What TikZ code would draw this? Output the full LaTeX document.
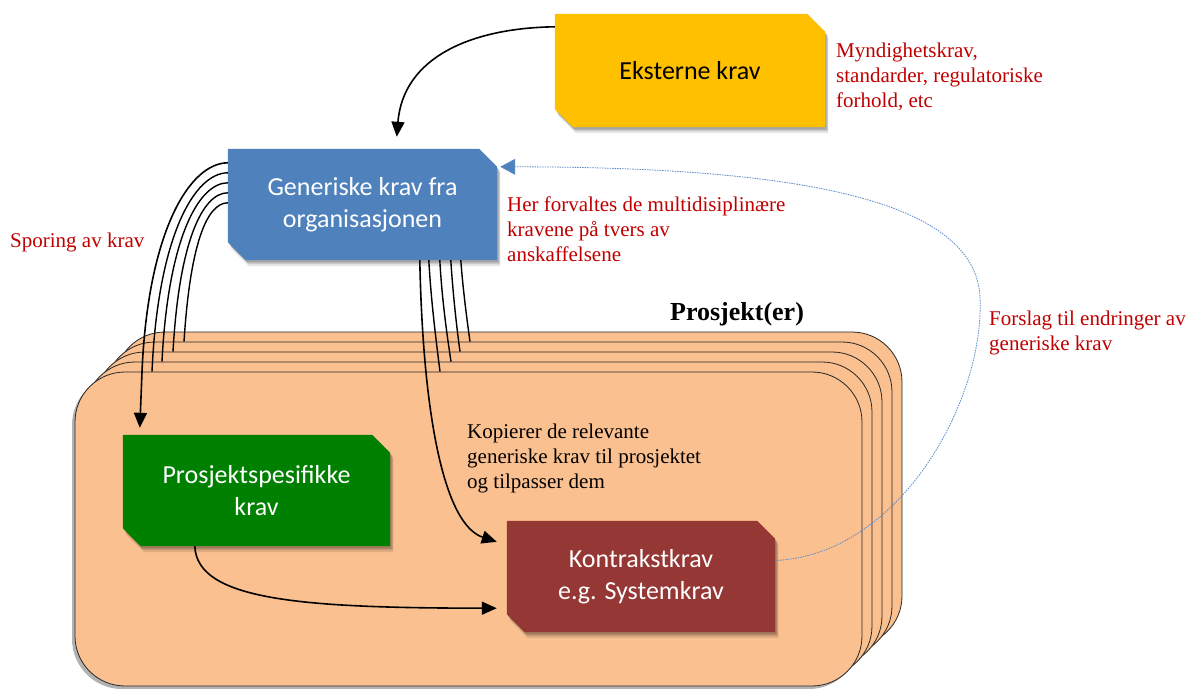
\documentclass[tikz,border=0pt]{standalone}
\usepackage{fontspec}
\setmainfont{Liberation Serif}
\newfontfamily\calib{Carlito}
\usetikzlibrary{calc,shadows,arrows.meta}
\pgfdeclarelayer{back}
\pgfdeclarelayer{mid}
\pgfsetlayers{back,mid,main}
\definecolor{extc}{HTML}{FFC000}
\definecolor{genc}{HTML}{4F81BD}
\definecolor{projc}{HTML}{008000}
\definecolor{kontrc}{HTML}{953735}
\definecolor{peach}{HTML}{FAC090}
\definecolor{redc}{HTML}{C00000}
\definecolor{dotc}{HTML}{5B8BC9}
\newcommand\chamfpath[1]{(#1.north west) -- ($(#1.north east)+(-18,0)$) -- ($(#1.north east)+(0,18)$) -- (#1.south east) -- ($(#1.south west)+(18,0)$) -- ($(#1.south west)+(0,-18)$) -- cycle}
\newcommand\chamfbox[2]{%
\begin{pgfonlayer}{mid}
\foreach \dx/\dy in {1/-2,2/-3,3/-4,3/-6}{
 \begin{scope}[transform canvas={shift={(\dx pt,\dy pt)}}]
 \fill[black,opacity=0.1] \chamfpath{#1};
 \end{scope}}
\fill[#2] \chamfpath{#1};
\end{pgfonlayer}}
\tikzset{
 boxtext/.style={font=\calib\fontsize{26}{32}\selectfont, align=center, text=white, inner sep=0pt, minimum height=111pt},
 redtxt/.style={font=\fontsize{21}{25}\selectfont, text=redc, align=left, anchor=north west, inner sep=0pt},
 blktxt/.style={font=\fontsize{21}{25}\selectfont, text=black, align=left, anchor=north west, inner sep=0pt},
 stackrect/.style={draw=black!85, line width=0.8pt, fill=peach, rounded corners=50pt, minimum width=787pt, minimum height=314pt, inner sep=0pt,
   drop shadow={shadow xshift=-3pt, shadow yshift=-3pt, opacity=0.3, fill=black}},
 bundle/.style={line width=1.4pt, black},
 arr/.style={line width=1.6pt, black, -{Triangle[length=15pt,width=13pt]}},
 fb/.style={line width=0.8pt, dotc, dash pattern=on 1.5pt off 1pt, -{Triangle[length=15pt,width=16pt,fill=genc]}}
}
\begin{document}
\begin{tikzpicture}[x=1pt,y=-1pt]
\begin{pgfonlayer}{back}
\fill[white] (0,0) rectangle (1191,688);
\useasboundingbox (0,0) rectangle (1191,688);
\foreach \k in {4,3,2,1,0}{
 \node[stackrect] (p\k) at ({468.5+10*\k},{529-10*\k}) {};
}
\end{pgfonlayer}

% boxes
\node[boxtext, text=black, minimum width=270pt, minimum height=113pt] (ext) at (690,70.5) {Eksterne krav};
\node[boxtext, minimum width=269pt] (gen) at (362.5,204.5) {Generiske krav fra\\organisasjonen};
\node[boxtext, minimum width=267pt] (proj) at (256.5,490.5) {Prosjektspesifikke\\krav};
\node[boxtext, minimum width=268pt] (kontr) at (641,576.5) {Kontrakstkrav\\e.g. Systemkrav};
\chamfbox{ext}{extc}
\chamfbox{gen}{genc}
\chamfbox{proj}{projc}
\chamfbox{kontr}{kontrc}

% labels
\node[redtxt] (t1) at (836,43) {Myndighetskrav,\\standarder, regulatoriske\\forhold, etc};
\node[redtxt] (t2) at (507,197) {Her forvaltes de multidisiplinære\\kravene på tvers av\\anskaffelsene};
\node[redtxt] (t3) at (10,233) {Sporing av krav};
\node[redtxt] (t4) at (989,311) {Forslag til endringer av\\generiske krav};
\node[blktxt] (t5) at (467,424) {Kopierer de relevante\\generiske krav til prosjektet\\og tilpasser dem};
\node[anchor=base, inner sep=0pt, font=\bfseries\fontsize{26}{30}\selectfont] (t6) at (737,320) {Prosjekt(er)};

% external -> generic
\coordinate (e1) at ($(ext.north west)+(0,13)$);
\coordinate (g1) at ($(gen.north west)+(169,-12)$);
\draw[arr] (e1) .. controls (470,28) and (403,58) .. (g1);

% left bundle
\coordinate (a0) at ($(proj.north west)+(17,-7)$);
\draw[arr] ($(gen.north west)+(0,14)$) .. controls (190,163) and (148,230) .. (142,372) -- (a0);
\draw[bundle] ($(gen.north west)+(0,24)$) .. controls (194,173) and (158,237) .. (152,0 |- p0.north);
\draw[bundle] ($(gen.north west)+(0,34)$) .. controls (198,183) and (168,240) .. (162,0 |- p1.north);
\draw[bundle] ($(gen.north west)+(0,44)$) .. controls (202,193) and (179,243) .. (173,0 |- p2.north);
\draw[bundle] ($(gen.north west)+(0,54)$) .. controls (206,203) and (190,247) .. (184,0 |- p3.north);

% right bundle
\coordinate (k0) at ($(kontr.north west)+(-10,21)$);
\draw[arr] ($(gen.south west)+(192,0)$) .. controls (423,420) and (445,525) .. (k0);
\draw[bundle] ($(gen.south west)+(201,0)$) .. controls (431,300) and (436,340) .. (440,0 |- p0.north);
\draw[bundle] ($(gen.south west)+(212,0)$) .. controls (442,300) and (447,335) .. (451,0 |- p1.north);
\draw[bundle] ($(gen.south west)+(223,0)$) .. controls (453,295) and (457,330) .. (460,0 |- p2.north);
\draw[bundle] ($(gen.south west)+(233,0)$) .. controls (463,290) and (467,320) .. (470,0 |- p3.north);

% project specific -> contract
\coordinate (k1) at ($(kontr.south west)+(-10,-24)$);
\draw[arr] ($(proj.south west)+(72,0)$) .. controls (197,600) and (300,608) .. (k1);

% feedback dotted
\coordinate (g2) at ($(gen.north east)+(3,18)$);
\draw[fb] ($(kontr.east)+(0,-16)$) .. controls (900,555) and (985,400) .. (980,297) .. controls (975,200) and (800,167) .. (g2);
\end{tikzpicture}
\end{document}
